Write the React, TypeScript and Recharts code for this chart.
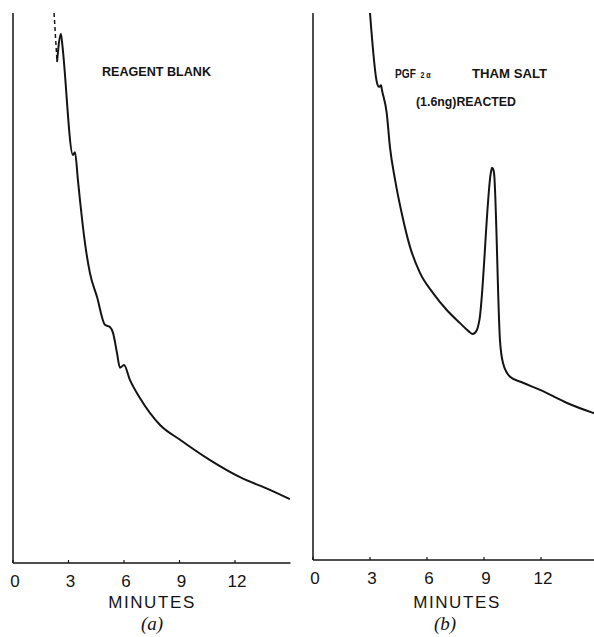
import React from "react";
import { LineChart, Line, XAxis, YAxis } from "recharts";

// minutes / detector response (0-100 = full chart height)
const blankTime = [2.38, 2.59, 2.65, 3.24, 3.35, 3.51, 3.62, 3.89, 4.16, 4.54, 4.97, 5.24, 5.41, 5.62, 5.78, 6.0, 6.32, 6.86, 7.95, 9.03, 10.65, 12.27, 13.89, 14.97];
const blankResp = [91.1, 96.2, 94.7, 74.2, 74.7, 69.6, 66.0, 58.2, 52.7, 48.4, 43.3, 42.9, 41.8, 38.2, 35.5, 36.0, 33.3, 30.0, 25.1, 22.4, 18.7, 15.6, 13.3, 11.6];
// off-scale pen trace at the start (dashed)
const blankOffTime = [2.22, 2.38];
const blankOffResp = [100, 91.1];

const pgfTime = [3.0, 3.37, 3.47, 3.58, 3.63, 3.88, 4.05, 4.32, 4.67, 5.11, 5.63, 6.32, 7.04, 7.74, 8.2, 8.4, 8.62, 8.76, 9.37, 9.42, 9.48, 9.53, 9.84, 10.0, 10.37, 11.05, 11.95, 13.37, 14.74, 15.0];
const pgfResp = [100, 87.2, 86.5, 86.8, 85.9, 81.7, 75.5, 69.5, 63.4, 57.2, 52.5, 48.8, 45.7, 43.3, 41.8, 41.3, 42.0, 43.9, 71.0, 71.7, 71.5, 70.7, 40.2, 36.0, 33.5, 32.4, 31.1, 28.7, 26.9, 26.6];

const minuteTicks = [0, 3, 6, 9, 12];

const toRows = (t: number[], v: number[]) => t.map((x, i) => ({ t: x, v: v[i] }));

const INK = "#141414";
const SANS = "'Liberation Sans', Arial, sans-serif";

const MinuteTick = (props: any) => {
  const { x, y, payload } = props;
  return (
    <g>
      <line x1={x} y1={y} x2={x} y2={y - 3} stroke={INK} strokeWidth={1.2} />
      <text x={x + 2} y={y + 24} textAnchor="middle" fontSize={17} fontFamily={SANS} fill={INK}>
        {payload.value}
      </text>
    </g>
  );
};

interface PanelProps {
  left: number;
  right: number;
  bottom: number;
  lines: { data: { t: number; v: number }[]; dashed?: boolean }[];
}

function Panel({ left, right, bottom, lines }: PanelProps) {
  return (
    <div style={{ position: "absolute", left, top: 0 }}>
      <LineChart
        width={300}
        height={637}
        margin={{ top: 13, right, left: 12, bottom }}
      >
        <XAxis
          dataKey="t"
          type="number"
          domain={[0, 15]}
          ticks={minuteTicks}
          interval={0}
          height={1}
          tickSize={0}
          tickMargin={0}
          tick={<MinuteTick />}
          axisLine={{ stroke: INK, strokeWidth: 1.5 }}
          allowDataOverflow
        />
        <YAxis
          type="number"
          domain={[0, 100]}
          width={1}
          tick={false}
          tickLine={false}
          axisLine={{ stroke: INK, strokeWidth: 1.5 }}
          allowDataOverflow
        />
        {lines.map((l, i) => (
          <Line
            key={i}
            data={l.data}
            dataKey="v"
            type={l.dashed ? "linear" : "monotoneX"}
            stroke={INK}
            strokeWidth={l.dashed ? 1.5 : 2}
            strokeDasharray={l.dashed ? "4 3" : undefined}
            dot={false}
            isAnimationActive={false}
          />
        ))}
      </LineChart>
    </div>
  );
}

export default function App() {
  return (
    <div
      style={{
        position: "absolute",
        left: 0,
        top: 0,
        width: 594,
        height: 637,
        overflow: "hidden",
        background: "#fff",
      }}
    >
      <Panel
        left={0}
        right={9.5}
        bottom={73}
        lines={[
          { data: toRows(blankOffTime, blankOffResp), dashed: true },
          { data: toRows(blankTime, blankResp) },
        ]}
      />
      <Panel left={300} right={2} bottom={76} lines={[{ data: toRows(pgfTime, pgfResp) }]} />
      <svg
        width={594}
        height={637}
        style={{ position: "absolute", left: 0, top: 0, pointerEvents: "none" }}
      >
        <g fontFamily={SANS} fontWeight="bold" fontSize={13} fill={INK}>
          <text x={102} y={76} textLength={109} lengthAdjust="spacingAndGlyphs">REAGENT BLANK</text>
          <text transform="translate(395,78) scale(0.78,1)">
            PGF<tspan fontSize={9} dx={6}>2 α</tspan>
          </text>
          <text x={472} y={78} textLength={75} lengthAdjust="spacingAndGlyphs">THAM SALT</text>
          <text x={416} y={106} textLength={100} lengthAdjust="spacingAndGlyphs">(1.6ng)REACTED</text>
        </g>
        <g fontFamily={SANS} fontSize={17} fill={INK} letterSpacing={1.6} textAnchor="middle">
          <text x={152} y={608}>MINUTES</text>
          <text x={457} y={608}>MINUTES</text>
        </g>
        <g fontFamily="'Liberation Serif', 'DejaVu Serif', serif" fontStyle="italic" fontSize={19} fill={INK} textAnchor="middle">
          <text x={152} y={630}>(a)</text>
          <text x={445} y={630}>(b)</text>
        </g>
      </svg>
    </div>
  );
}
